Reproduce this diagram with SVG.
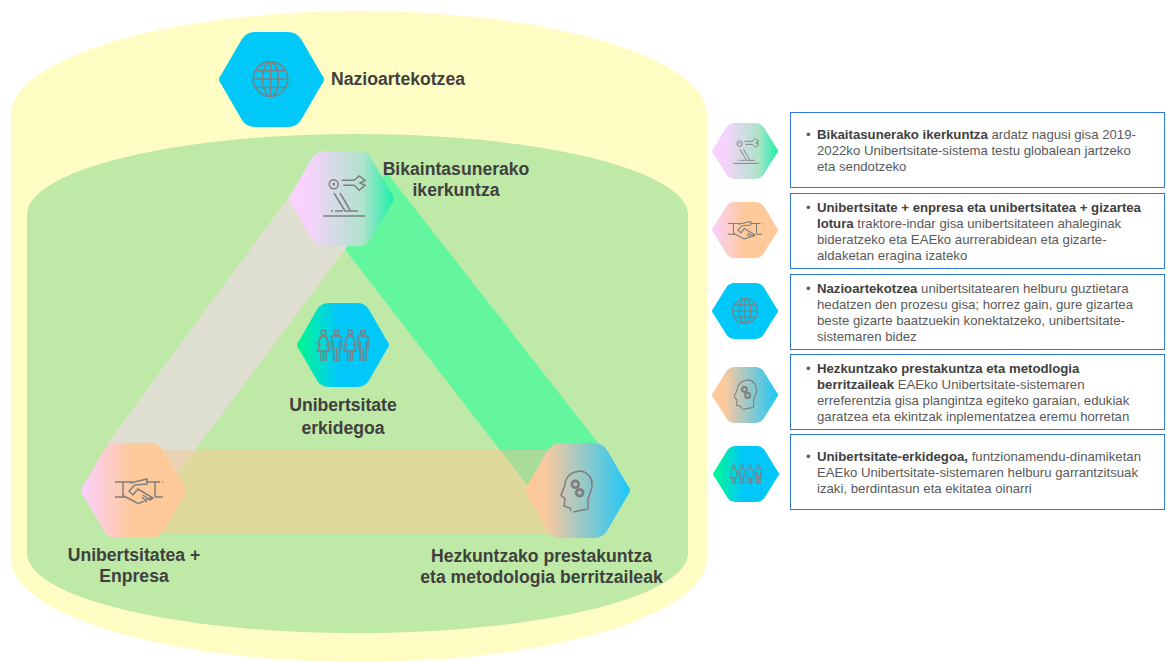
<svg xmlns="http://www.w3.org/2000/svg" width="1167" height="662" viewBox="0 0 1167 662">
<style>
.lbl{font:bold 17.6px "Liberation Sans",Arial,sans-serif;fill:#404040}
.c{text-anchor:middle}
.t{font:13.2px "Liberation Sans",Arial,sans-serif;fill:#595959}
.t tspan.b{font-weight:bold;fill:#404040}
.box{fill:#fff;stroke:#2F78E4;stroke-width:1}
.ic{fill:none;stroke:#7F7F7F;stroke-width:1.5}
</style>
<defs>
<linearGradient id="gRobot"><stop offset="0" stop-color="#FBD2FF"/><stop offset=".2" stop-color="#F6D3FC"/><stop offset=".7" stop-color="#AFE3CC"/><stop offset="1" stop-color="#1CF0A8"/></linearGradient>
<linearGradient id="gHand"><stop offset="0" stop-color="#FBD0FF"/><stop offset=".5" stop-color="#FFC999"/><stop offset="1" stop-color="#FFC999"/></linearGradient>
<linearGradient id="gHead"><stop offset="0" stop-color="#FFC999"/><stop offset=".2" stop-color="#FAC9A0"/><stop offset="1" stop-color="#1CC8FA"/></linearGradient>
<linearGradient id="gPeople"><stop offset="0" stop-color="#00F98E"/><stop offset=".45" stop-color="#02C8FA"/><stop offset="1" stop-color="#02C8FA"/></linearGradient>
<path id="hex" d="M2.5 42.3L22.55 7.8Q27 0 36 0L69 0Q78 0 82.45 7.8L102.5 42.3Q107.5 47.5 102.5 52.7L82.45 87.2Q78 95 69 95L36 95Q27 95 22.55 87.2L2.5 52.7Q-2.5 47.5 2.5 42.3Z"/>
<g id="icGlobe" class="ic"><circle r="17.3"/><ellipse rx="8" ry="17.3"/><path d="M0-17.3V17.3M-17.3 0H17.3M-15 -8.5H15M-15 8.5H15"/></g>
<g id="icRobot" class="ic"><circle cx="-10.3" cy="-11.7" r="4.5"/><circle cx="-10.3" cy="-11.7" r=".7"/><path d="M-2.3-15.7H10L15.3-20L21-15.7L16-13L21-10.7L15.3-5.7L10-10.7H-.7M-10-3L1 15H14M-4-3L6 14M-13 15H-11M-9 15H-1M-20.7 20H21"/></g>
<g id="icHand" class="ic"><path d="M-24-9H-6M-16-9V6M16-9V6M8-9H21M23-9H24M-24 6H-14M16 6H24M-15 5L-2 12H1L13 6M-9-8L8-12V-7L-4-6L-10 0L-6 4L-1-2L14 7L11 9L4 4M8 11L3 6"/></g>
<g id="icPeople" class="ic"><g transform="translate(-19.5 0)"><circle cy="-12.7" r="2.4"/><path d="M-2.5-9H2.5L5.5-1L3.5-.5L6 6H-6L-3.5-.5L-5.5-1ZM-2.5 6V15H2.5V6M0 6V15"/></g><g transform="translate(-6.5 0)"><circle cy="-12.7" r="2.4"/><path d="M-5-7Q-5-9-3-9H3Q5-9 5-7V3H3V15H-3V3H-5ZM0 3V15M-3-4V3M3-4V3"/></g><g transform="translate(7 0)"><circle cy="-12.7" r="2.4"/><path d="M-2.5-9H2.5L5.5-1L3.5-.5L6 6H-6L-3.5-.5L-5.5-1ZM-2.5 6V15H2.5V6M0 6V15"/></g><g transform="translate(20 0)"><circle cy="-12.7" r="2.4"/><path d="M-5-7Q-5-9-3-9H3Q5-9 5-7V3H3V15H-3V3H-5ZM0 3V15M-3-4V3M3-4V3"/></g></g>
<g id="icHead" class="ic"><path d="M-5 19L-6 16L-12 14L-11 7L-15 3L-11-7Q-10-20 5-21Q17-18 16-5Q14 2 12 7V17L-3 20"/><circle cx="-.7" cy="-7.7" r="3.4" stroke-width="2.8"/><circle cx="3.7" cy=".7" r="3.4" stroke-width="2.8"/></g>
</defs>

<g id="background">
<path fill="#FFFDC3" d="M11 115C11 58 167 11 359 11S707 58 707 115V558C707 615 551 662 359 662S11 615 11 558Z"/>
<path fill="#BFE9A6" d="M27 215C27 170 175 134 357 134S688 170 688 215V553C688 597 540 633 357 633S27 597 27 553Z"/>
</g>

<g id="connectors">
<polygon fill="#63F69E" points="330,230 387,173 602,448 570,500 527,485"/>
<polygon fill="#DEDFD1" points="312,165 382,200 165,490 125,490 107.6,443"/>
<rect fill="#DFD99C" x="150" y="450" width="410" height="83"/>
<polygon fill="#EAD3B4" points="110,450 195.5,450 165,490 120,490"/>
<polygon fill="#A9DC98" points="500,450 560,450 560,500 527,485"/>
</g>

<g id="node-nazioartekotzea"><use href="#hex" fill="#00C8F9" transform="translate(219 32)"/><use href="#icGlobe" transform="translate(270.5 79)"/><text class="lbl" x="331" y="85">Nazioartekotzea</text></g>
<g id="node-bikaintasunerako"><use href="#hex" fill="url(#gRobot)" transform="translate(289 151)"/><use href="#icRobot" transform="translate(344 196)"/><text class="lbl c" x="456" y="175">Bikaintasunerako</text><text class="lbl c" x="456" y="196">ikerkuntza</text></g>
<g id="node-erkidegoa"><use href="#hex" fill="url(#gPeople)" transform="translate(297 303) scale(.876 .884)"/><use href="#icPeople" transform="translate(343 345)"/><text class="lbl c" x="343" y="411">Unibertsitate</text><text class="lbl c" x="343" y="434">erkidegoa</text></g>
<g id="node-enpresa"><use href="#hex" fill="url(#gHand)" transform="translate(81 443)"/><use href="#icHand" transform="translate(139 491)"/><text class="lbl c" x="134" y="561">Unibertsitatea +</text><text class="lbl c" x="134" y="582">Enpresa</text></g>
<g id="node-hezkuntzako"><use href="#hex" fill="url(#gHead)" transform="translate(525 443)"/><use href="#icHead" transform="translate(576 492)"/><text class="lbl c" x="541.5" y="562">Hezkuntzako prestakuntza</text><text class="lbl c" x="541.5" y="583">eta metodologia berritzaileak</text></g>

<g id="legend-1"><use href="#hex" fill="url(#gRobot)" transform="translate(712 123) scale(.629 .589)"/><use href="#icRobot" transform="translate(746 151) scale(.62)"/><rect class="box" x="790.5" y="112.5" width="374" height="75"/><text class="t" x="806" y="139">•</text><text class="t" x="817" y="139"><tspan class="b">Bikaitasunerako ikerkuntza</tspan> ardatz nagusi gisa 2019-</text><text class="t" x="817" y="155">2022ko Unibertsitate-sistema testu globalean jartzeko</text><text class="t" x="817" y="171">eta sendotzeko</text></g>
<g id="legend-2"><use href="#hex" fill="url(#gHand)" transform="translate(712 202) scale(.629 .589)"/><use href="#icHand" transform="translate(745 230) scale(.72)"/><rect class="box" x="790.5" y="193.5" width="374" height="75"/><text class="t" x="806" y="212">•</text><text class="t" x="817" y="212"><tspan class="b">Unibertsitate + enpresa eta unibertsitatea + gizartea</tspan></text><text class="t" x="817" y="228"><tspan class="b">lotura</tspan> traktore-indar gisa unibertsitateen ahaleginak</text><text class="t" x="817" y="244">bideratzeko eta EAEko aurrerabidean eta gizarte-</text><text class="t" x="817" y="260">aldaketan eragina izateko</text></g>
<g id="legend-3"><use href="#hex" fill="#00C8F9" transform="translate(712 283) scale(.629 .589)"/><use href="#icGlobe" transform="translate(745 311) scale(.72)"/><rect class="box" x="790.5" y="274.5" width="374" height="75"/><text class="t" x="806" y="293">•</text><text class="t" x="817" y="293"><tspan class="b">Nazioartekotzea</tspan> unibertsitatearen helburu guztietara</text><text class="t" x="817" y="309">hedatzen den prozesu gisa; horrez gain, gure gizartea</text><text class="t" x="817" y="325">beste gizarte baatzuekin konektatzeko, unibertsitate-</text><text class="t" x="817" y="341">sistemaren bidez</text></g>
<g id="legend-4"><use href="#hex" fill="url(#gHead)" transform="translate(712 367) scale(.629 .589)"/><use href="#icHead" transform="translate(745 395) scale(.72)"/><rect class="box" x="790.5" y="354.5" width="374" height="75"/><text class="t" x="806" y="373">•</text><text class="t" x="817" y="373"><tspan class="b">Hezkuntzako prestakuntza eta metodlogia</tspan></text><text class="t" x="817" y="389"><tspan class="b">berritzaileak</tspan> EAEko Unibertsitate-sistemaren</text><text class="t" x="817" y="405">erreferentzia gisa plangintza egiteko garaian, edukiak</text><text class="t" x="817" y="421">garatzea eta ekintzak inplementatzea eremu horretan</text></g>
<g id="legend-5"><use href="#hex" fill="url(#gPeople)" transform="translate(713 446) scale(.629 .589)"/><use href="#icPeople" transform="translate(746 474) scale(.62)"/><rect class="box" x="790.5" y="434.5" width="374" height="75"/><text class="t" x="806" y="461">•</text><text class="t" x="817" y="461"><tspan class="b">Unibertsitate-erkidegoa,</tspan> funtzionamendu-dinamiketan</text><text class="t" x="817" y="477">EAEko Unibertsitate-sistemaren helburu garrantzitsuak</text><text class="t" x="817" y="493">izaki, berdintasun eta ekitatea oinarri</text></g>
</svg>
